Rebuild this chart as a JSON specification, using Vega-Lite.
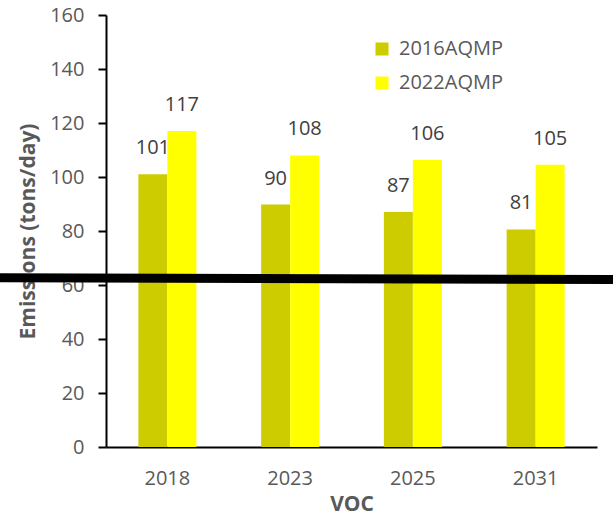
{
  "$schema": "https://vega.github.io/schema/vega-lite/v6.json",
  "autosize": {"type": "none"},
  "width": 491,
  "height": 432,
  "padding": {"left": 106, "top": 15, "right": 16, "bottom": 72},
  "background": "white",
  "config": {"view": {"stroke": null}, "font": "Open Sans"},
  "datasets": {
    "bars": [
      {"year": "2018", "series": "2016AQMP", "value": 101, "label": "101"},
      {"year": "2018", "series": "2022AQMP", "value": 117, "label": "117"},
      {"year": "2023", "series": "2016AQMP", "value": 89.8, "label": "90"},
      {"year": "2023", "series": "2022AQMP", "value": 108, "label": "108"},
      {"year": "2025", "series": "2016AQMP", "value": 87, "label": "87"},
      {"year": "2025", "series": "2022AQMP", "value": 106.3, "label": "106"},
      {"year": "2031", "series": "2016AQMP", "value": 80.6, "label": "81"},
      {"year": "2031", "series": "2022AQMP", "value": 104.5, "label": "105"}
    ],
    "line": [{"x": -0.216, "x2": 1.033, "y": 62.7, "y2": 62.0}]
  },
  "layer": [
    {
      "data": {"name": "bars"},
      "mark": {"type": "bar"},
      "encoding": {
        "x": {
          "field": "year", "type": "nominal",
          "scale": {"paddingInner": 0.5275, "paddingOuter": 0.26375},
          "axis": {
            "title": "VOC", "labelAngle": 0, "ticks": false,
            "domainColor": "black", "domainWidth": 2,
            "labelFontSize": 20, "labelColor": "#595959", "labelPadding": 21,
            "titleFontSize": 21, "titleFontWeight": "bold", "titleColor": "#595959", "titlePadding": 5
          }
        },
        "xOffset": {"field": "series", "type": "nominal", "scale": {"paddingInner": 0, "paddingOuter": 0}},
        "y": {
          "field": "value", "type": "quantitative",
          "scale": {"domain": [0, 160], "nice": false},
          "axis": {
            "title": "Emissions (tons/day)", "values": [0, 20, 40, 60, 80, 100, 120, 140, 160],
            "grid": false, "domainColor": "black", "domainWidth": 2,
            "tickColor": "black", "tickWidth": 2, "tickSize": 8,
            "labelFontSize": 20, "labelColor": "#595959", "labelPadding": 14,
            "titleFontSize": 21, "titleFontWeight": "bold", "titleColor": "#595959", "titlePadding": 11
          }
        },
        "color": {
          "field": "series", "type": "nominal",
          "scale": {"domain": ["2016AQMP", "2022AQMP"], "range": ["#CCCC00", "#FFFF00"]},
          "legend": {
            "title": null, "orient": "none", "legendX": 266, "legendY": 24,
            "padding": 0, "symbolType": "square", "symbolSize": 169, "symbolStrokeWidth": 0, "symbolOpacity": 1,
            "labelFontSize": 20, "labelColor": "#595959", "labelOffset": 7, "rowPadding": 14
          }
        }
      }
    },
    {
      "data": {"name": "bars"},
      "mark": {"type": "text", "baseline": "bottom", "dy": -16, "fontSize": 20, "color": "#404040"},
      "encoding": {
        "x": {"field": "year", "type": "nominal", "scale": {"paddingInner": 0.5275, "paddingOuter": 0.26375}, "axis": null},
        "xOffset": {"field": "series", "type": "nominal", "scale": {"paddingInner": 0, "paddingOuter": 0}},
        "y": {"field": "value", "type": "quantitative"},
        "text": {"field": "label"}
      }
    },
    {
      "data": {"name": "line"},
      "mark": {"type": "rule", "color": "black", "strokeWidth": 9},
      "encoding": {
        "x": {"field": "x", "type": "quantitative", "scale": {"domain": [0, 1], "nice": false, "zero": false}, "axis": null},
        "x2": {"field": "x2"},
        "y": {"field": "y", "type": "quantitative"},
        "y2": {"field": "y2"}
      }
    }
  ],
  "resolve": {"scale": {"x": "independent"}}
}
